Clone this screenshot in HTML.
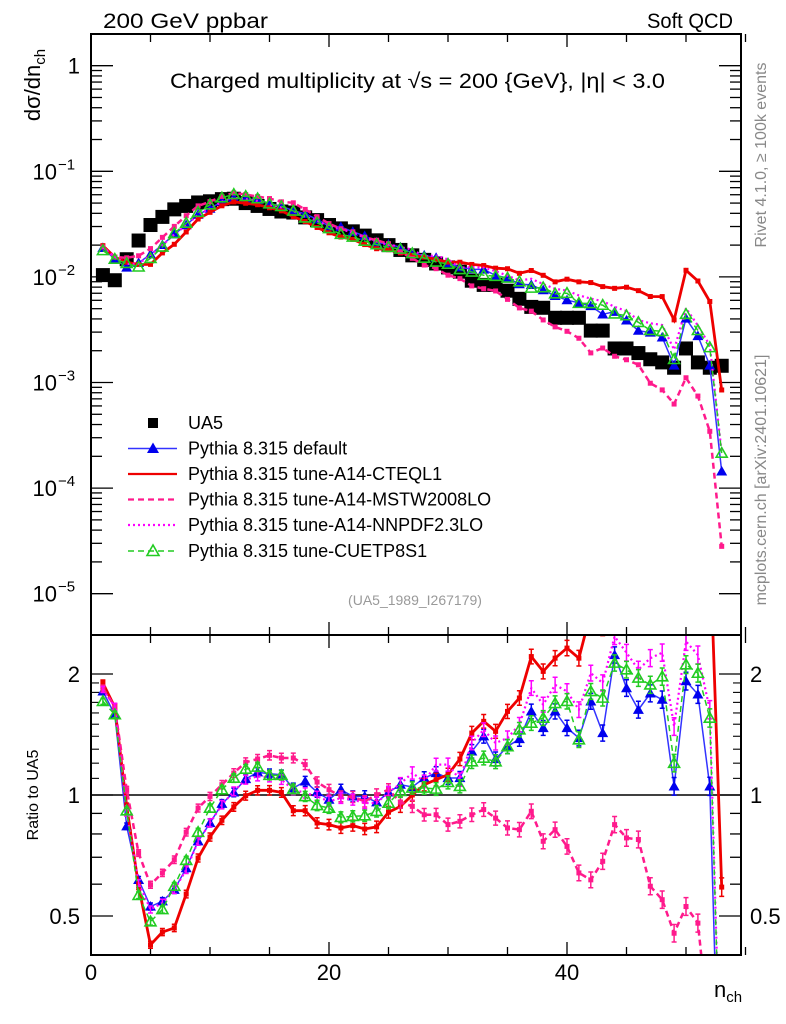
<!DOCTYPE html>
<html><head><meta charset="utf-8"><style>
html,body{margin:0;padding:0;background:#fff;overflow:hidden;width:786px;height:1024px;}
svg{display:block;font-family:"Liberation Sans",sans-serif;}
</style></head><body>
<svg id="chart" width="786" height="1024" viewBox="0 0 786 1024" xmlns="http://www.w3.org/2000/svg">
<defs>
<clipPath id="clipMain"><rect x="91" y="34" width="650" height="601"/></clipPath>
<clipPath id="clipRatio"><rect x="91" y="635" width="650" height="320"/></clipPath>
</defs>
<rect x="0" y="0" width="786" height="1024" fill="#fff"/>
<text x="103" y="28" font-size="21" textLength="165" lengthAdjust="spacingAndGlyphs">200 GeV ppbar</text>
<text x="647" y="28" font-size="21" textLength="86" lengthAdjust="spacingAndGlyphs">Soft QCD</text>
<text x="170" y="88" font-size="21" textLength="495" lengthAdjust="spacingAndGlyphs">Charged multiplicity at √s = 200 {GeV}, |η| &lt; 3.0</text>
<text x="415" y="605" font-size="14" fill="#999" text-anchor="middle">(UA5_1989_I267179)</text>
<text transform="translate(766,155) rotate(-90)" font-size="16" fill="#888" text-anchor="middle">Rivet 4.1.0, ≥ 100k events</text>
<text transform="translate(766,480) rotate(-90)" font-size="16" fill="#888" text-anchor="middle">mcplots.cern.ch [arXiv:2401.10621]</text>
<text transform="translate(40,85) rotate(-90)" font-size="22" text-anchor="middle">dσ/dn<tspan font-size="15" dy="5">ch</tspan></text>
<text transform="translate(38,795) rotate(-90)" font-size="16" text-anchor="middle">Ratio to UA5</text>
<text x="714" y="997" font-size="22">n<tspan font-size="15" dy="5">ch</tspan></text>
<g id="axes"></g>
<g id="mainMarks" clip-path="url(#clipMain)"></g>
<g id="ratioMarks" clip-path="url(#clipRatio)"></g>
<rect x="91" y="34" width="650" height="601" fill="none" stroke="#000" stroke-width="2"/>
<rect x="91" y="635" width="650" height="320" fill="none" stroke="#000" stroke-width="2"/>
<g id="legend"></g>
</svg>
<script>
const nch = [];
for (let i = 1; i <= 53; i++) nch.push(i);
const ua5 = [0.0104,0.0093,0.0147,0.0221,0.031,0.037,0.0436,0.047,0.0507,0.052,0.0545,0.055,0.050,0.047,0.044,0.0416,0.0407,0.0366,0.0345,0.031,0.0288,0.027,0.0246,0.0222,0.020,0.018,0.016,0.0145,0.0134,0.0123,0.0112,0.0092,0.0084,0.0084,0.0074,0.0062,0.0052,0.0051,0.0041,0.0041,0.0041,0.0031,0.0031,0.0021,0.0021,0.0019,0.00166,0.00155,0.00138,0.0021,0.00155,0.00138,0.00144];
const ratioDefault = [1.81,1.585,0.836,0.615,0.528,0.544,0.581,0.658,0.767,0.852,0.951,1.015,1.096,1.139,1.13,1.123,1.041,1.081,1.017,0.974,1.031,0.992,0.992,0.959,1.015,1.061,1.047,1.102,1.134,1.102,1.102,1.284,1.40,1.229,1.32,1.378,1.614,1.468,1.614,1.468,1.386,1.71,1.426,2.23,1.845,1.63,1.79,1.727,1.051,1.92,1.78,1.051,0.10];
const ratioCTEQ = [1.90,1.655,0.937,0.593,0.424,0.456,0.467,0.567,0.697,0.786,0.865,0.934,0.996,1.027,1.027,1.015,0.914,0.914,0.852,0.844,0.828,0.839,0.823,0.833,0.906,0.937,1.0,1.061,1.092,1.123,1.229,1.426,1.525,1.44,1.614,1.743,2.21,2.03,2.19,2.32,2.19,2.85,2.61,3.71,3.8,3.9,3.93,4.2,2.84,5.5,5.9,4.24,0.59];
const ratioMSTW = [1.845,1.66,1.031,0.717,0.598,0.640,0.690,0.808,0.928,0.992,1.061,1.134,1.206,1.229,1.255,1.236,1.236,1.19,1.077,1.031,0.992,0.989,0.964,1.002,1.031,0.96,0.937,0.893,0.893,0.844,0.86,0.893,0.92,0.876,0.828,0.82,0.911,0.767,0.82,0.745,0.640,0.615,0.684,0.844,0.782,0.775,0.593,0.549,0.453,0.528,0.48,0.25,0.0195];
const ratioNNPDF = [1.83,1.66,0.902,0.604,0.519,0.539,0.581,0.652,0.767,0.852,0.946,1.021,1.092,1.113,1.107,1.092,1.031,1.012,0.992,0.964,0.983,0.974,0.955,0.955,1.015,1.067,1.134,1.081,1.19,1.19,1.092,1.347,1.454,1.347,1.386,1.496,1.845,1.677,1.88,1.81,1.63,2.01,1.90,2.48,2.26,2.05,2.19,2.26,1.48,2.41,2.23,1.63,0.15];
const ratioCUETP = [1.71,1.585,0.914,0.563,0.484,0.519,0.593,0.688,0.808,0.928,1.031,1.102,1.16,1.174,1.12,1.12,1.035,0.992,0.942,0.928,0.880,0.885,0.888,0.911,0.955,1.021,1.041,1.041,1.035,1.075,1.051,1.21,1.236,1.21,1.32,1.454,1.51,1.554,1.69,1.71,1.373,1.81,1.743,2.13,2.05,1.955,1.88,1.97,1.2,2.11,2.01,1.554,0.149];
const xTicks = [0,20,40];
const mainTickLabels = ["1","10","10","10","10","10"];
const mainTickExps = [null,"−1","−2","−3","−4","−5"];
const ratioTicks = [2,1,0.5];
const ratioTickLabels = ["2","1","0.5"];
const legendLabels = ["UA5","Pythia 8.315 default","Pythia 8.315 tune-A14-CTEQL1","Pythia 8.315 tune-A14-MSTW2008LO","Pythia 8.315 tune-A14-NNPDF2.3LO","Pythia 8.315 tune-CUETP8S1"];

const NS = "http://www.w3.org/2000/svg";
const X0 = 91, X1 = 741;
function xs(n){ return 91 + 11.9 * n; }
function ym(v){ return 65.7 - 105.6 * Math.log10(v); }
function yr(r){ return 795 - 121 * Math.log2(r); }
function mk(tag, attrs, parent){
  const e = document.createElementNS(NS, tag);
  for (const k in attrs) e.setAttribute(k, attrs[k]);
  parent.appendChild(e);
  return e;
}
const axes = document.getElementById('axes');
const mainG = document.getElementById('mainMarks');
const ratioG = document.getElementById('ratioMarks');
const legG = document.getElementById('legend');

for (let v = 0; v <= 55; v += 5) {
  const big = v % 20 === 0;
  const len = big ? 13 : 8;
  const x = xs(v);
  for (const [yb, dir] of [[34,1],[635,-1],[635,1],[955,-1]]) {
    const t = mk('line', {x1:x, x2:x, y1:yb, y2:yb + dir*len, stroke:'#000', 'stroke-width':1.3}, axes);
    
    
  }
}
xTicks.forEach(v => {
  const t = mk('text', {x:xs(v), y:980, 'font-size':22, 'text-anchor':'middle'}, axes);
  t.textContent = String(v);
  
  
});
for (let d = 0; d >= -5; d--) {
  for (let m = 1; m <= 9; m++) {
    const y = ym(m * Math.pow(10, d));
    if (y < 34 || y > 635) continue;
    const len = m === 1 ? 22 : 11;
    for (const [xb, dir] of [[X0,1],[X1,-1]]) {
      const t = mk('line', {x1:xb, x2:xb + dir*len, y1:y, y2:y, stroke:'#000', 'stroke-width':1.3}, axes);
      
      
    }
  }
}
for (let m = 2; m <= 9; m++) {
  const y = ym(m);
  if (y >= 34) {
    for (const [xb, dir] of [[X0,1],[X1,-1]]) mk('line', {x1:xb, x2:xb + dir*11, y1:y, y2:y, stroke:'#000', 'stroke-width':1.3}, axes);
  }
}
mainTickLabels.forEach((lab, i) => {
  const y = ym(Math.pow(10, -i)) + 8;
  const t = mk('text', {x: 80, y:y, 'font-size':22, 'text-anchor':'end'}, axes);
  
  
  t.textContent = lab;
  if (mainTickExps[i]) {
    t.setAttribute('x', 57);
    const s = mk('text', {x:58, y:y - 10, 'font-size':15}, axes);
    s.textContent = mainTickExps[i];
    
    
  }
});
const rMinor = [0.4,0.5,0.6,0.7,0.8,0.9,1,2];
rMinor.forEach(r => {
  const y = yr(r);
  if (y < 635 || y > 955) return;
  const big = (r === 0.5 || r === 1 || r === 2);
  for (const [xb, dir] of [[X0,1],[X1,-1]]) mk('line', {x1:xb, x2:xb + dir*(big ? 22 : 11), y1:y, y2:y, stroke:'#000', 'stroke-width':1.3}, axes);
});
for (let r = 1.1; r < 2; r += 0.1) {
  const y = yr(r);
  for (const [xb, dir] of [[X0,1],[X1,-1]]) mk('line', {x1:xb, x2:xb + dir*8, y1:y, y2:y, stroke:'#000', 'stroke-width':1.1}, axes);
}
ratioTicks.forEach((r, i) => {
  const y = yr(r) + 8;
  const t = mk('text', {x:80, y:y, 'font-size':22, 'text-anchor':'end'}, axes);
  t.textContent = ratioTickLabels[i];
  
  
  const t2 = mk('text', {x:750, y:y, 'font-size':22}, axes);
  t2.textContent = ratioTickLabels[i];
  
  
});
const oneLine = mk('line', {x1:X0, x2:X1, y1:yr(1), y2:yr(1), stroke:'#000', 'stroke-width':1.5}, ratioG);



const series = [
  {name:'default', ratio:ratioDefault, color:'#0000ee', line:'#3333ff', w:1.5, dash:'', marker:'tri'},
  {name:'cteql1', ratio:ratioCTEQ, color:'#ee0000', line:'#ee0000', w:2.8, dash:'', marker:'sq'},
  {name:'mstw2008lo', ratio:ratioMSTW, color:'#ff1a8c', line:'#ff1a8c', w:2.5, dash:'6,4', marker:'sq'},
  {name:'nnpdf23lo', ratio:ratioNNPDF, color:'#ff00ff', line:'#ff00ff', w:2.2, dash:'2,3', marker:'none'},
  {name:'cuetp8s1', ratio:ratioCUETP, color:'#22cc22', line:'#22cc22', w:1.5, dash:'6,4', marker:'otri'}
];
function marker(type, x, y, col, g, sz){
  let e;
  if (type === 'tri') e = mk('polygon', {points:`${x},${y-sz} ${x-sz},${y+sz*0.75} ${x+sz},${y+sz*0.75}`, fill:col}, g);
  else if (type === 'otri') e = mk('polygon', {points:`${x},${y-sz} ${x-sz},${y+sz*0.75} ${x+sz},${y+sz*0.75}`, fill:'none', stroke:col, 'stroke-width':1.6}, g);
  else if (type === 'sq') e = mk('rect', {x:x-2.5, y:y-2.5, width:5, height:5, fill:col}, g);
  else if (type === 'bigsq') e = mk('rect', {x:x-7, y:y-7, width:14, height:14, fill:col}, g);
  return e;
}
function drawSeries(g, vals, s, yf, label){
  const pts = vals.map((v, i) => xs(nch[i]).toFixed(1) + ',' + yf(v).toFixed(1)).join(' ');
  const pl = mk('polyline', {points:pts, fill:'none', stroke:s.line, 'stroke-width':s.w, 'stroke-dasharray':s.dash}, g);
  
  
  vals.forEach((v, i) => {
    const x = xs(nch[i]), y = yf(v);
    if (g === ratioG) {
      const e = 3 + 0.12 * i;
      const eb = mk('path', {d:`M${x},${y-e}V${y+e}M${x-2.5},${y-e}h5M${x-2.5},${y+e}h5`, stroke:s.color, 'stroke-width':1.5, fill:'none'}, g);
      
      
    }
    const m = marker(s.marker, x, y, s.color, g, 5.5);
    if (m) {
      
      
    }
  });
}
ua5.forEach((v, i) => {
  const m = marker('bigsq', xs(nch[i]), ym(v), '#000', mainG, 7);
  
  
});
series.forEach(s => {
  const mainVals = s.ratio.map((r, i) => r * ua5[i]);
  drawSeries(mainG, mainVals, s, ym, 'main');
  drawSeries(ratioG, s.ratio, s, yr, 'ratio');
});

const legY = [423, 448.5, 474, 499.5, 525, 551];
legendLabels.forEach((lab, i) => {
  const y = legY[i];
  const g = mk('g', {}, legG);
  
  
  if (i === 0) {
    mk('rect', {x:148, y:y-5, width:10, height:10, fill:'#000'}, g);
  } else {
    const s = series[i-1];
    mk('line', {x1:128, x2:177, y1:y, y2:y, stroke:s.line, 'stroke-width':Math.min(s.w, 2.2), 'stroke-dasharray':s.dash}, g);
    if (s.marker === 'tri' || s.marker === 'otri') marker(s.marker, 153, y, s.color, g, 6);
  }
  const t = mk('text', {x:188, y:y+6, 'font-size':18}, g);
  t.textContent = lab;
});
</script>
</body></html>
